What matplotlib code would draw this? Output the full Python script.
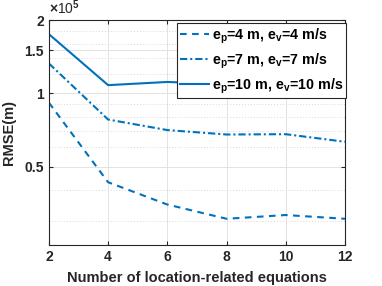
#!/usr/bin/env python3

import matplotlib

matplotlib.use("Agg")
import matplotlib.pyplot as plt
from matplotlib.ticker import FixedLocator, FixedFormatter, NullFormatter

# Data (RMSE in units of 1e5 m)
num_eq = [2, 4, 6, 8, 10, 12]
rmse_4 = [0.915, 0.431, 0.349, 0.305, 0.316, 0.305]
rmse_7 = [1.326, 0.78, 0.706, 0.677, 0.679, 0.632]
rmse_10 = [1.75, 1.08, 1.113, 1.09, 1.12, 1.16]

labels = [
    r"e$_\mathbf{p}$=4 m, e$_\mathbf{v}$=4 m/s",
    r"e$_\mathbf{p}$=7 m, e$_\mathbf{v}$=7 m/s",
    r"e$_\mathbf{p}$=10 m, e$_\mathbf{v}$=10 m/s",
]
yticks = [0.5, 1, 1.5, 2]
ytick_labels = ["0.5", "1", "1.5", "2"]
xticks = [2, 4, 6, 8, 10, 12]

blue = "#0072BD"

plt.rcParams["font.family"] = ["Liberation Sans", "DejaVu Sans"]
plt.rcParams["mathtext.fontset"] = "custom"
plt.rcParams["mathtext.rm"] = "Liberation Sans:bold"
plt.rcParams["mathtext.bf"] = "Liberation Sans:bold"
plt.rcParams["mathtext.it"] = "Liberation Sans:bold"

fig = plt.figure(figsize=(3.82, 2.86), dpi=100)
ax = fig.add_axes([0.128, 0.1434, 0.775, 0.7866])

ax.plot(num_eq, rmse_4, color=blue, lw=1.5, dashes=(3.2, 2.6), label=labels[0])
ax.plot(num_eq, rmse_7, color=blue, lw=1.5, dashes=(3.5, 1.4, 1, 1.4), label=labels[1])
ax.plot(num_eq, rmse_10, color=blue, lw=1.5, label=labels[2])

ax.set_yscale("log")
ax.set_ylim(0.238, 2)
ax.set_xlim(2, 12)

ax.yaxis.set_major_locator(FixedLocator(yticks))
ax.yaxis.set_major_formatter(FixedFormatter(ytick_labels))
minor = [0.3, 0.4, 0.6, 0.7, 0.8, 0.9, 1.2, 1.4, 1.6, 1.8]
ax.yaxis.set_minor_locator(FixedLocator(minor))
ax.yaxis.set_minor_formatter(NullFormatter())
ax.set_xticks(xticks)

ax.grid(True, which="major", color="#e3e3e3", lw=0.7)
ax.grid(True, which="minor", axis="y", color="#d8d8d8", lw=0.7, ls=(0, (1, 2)))
ax.set_axisbelow(True)

ax.tick_params(which="both", direction="in", top=True, right=True,
               labelsize=10, colors="#262626", length=3)
ax.tick_params(which="minor", length=0)
for lab in ax.get_xticklabels() + ax.get_yticklabels():
    lab.set_fontweight("bold")
    lab.set_color("#262626")
for sp in ax.spines.values():
    sp.set_color("#262626")
    sp.set_linewidth(0.8)

ax.set_xlabel("Number of location-related equations", fontsize=10.5,
              fontweight="bold", color="#262626", labelpad=5)
ax.set_ylabel("RMSE(m)", fontsize=10.5, fontweight="bold", color="#262626",
              labelpad=6)
ax.text(0.0, 1.012, r"$\times$10$^5$", transform=ax.transAxes, fontsize=10,
        color="#262626", ha="left", va="bottom")

leg = ax.legend(loc="upper right", bbox_to_anchor=(1.003, 0.985), borderaxespad=0,
                fancybox=False, framealpha=1, edgecolor="#262626",
                prop={"weight": "bold", "size": 10.3}, handlelength=2.0,
                handletextpad=0.2, labelspacing=0.4, borderpad=0.2)
leg.get_frame().set_linewidth(0.8)

fig.savefig("out.png", dpi=100)
